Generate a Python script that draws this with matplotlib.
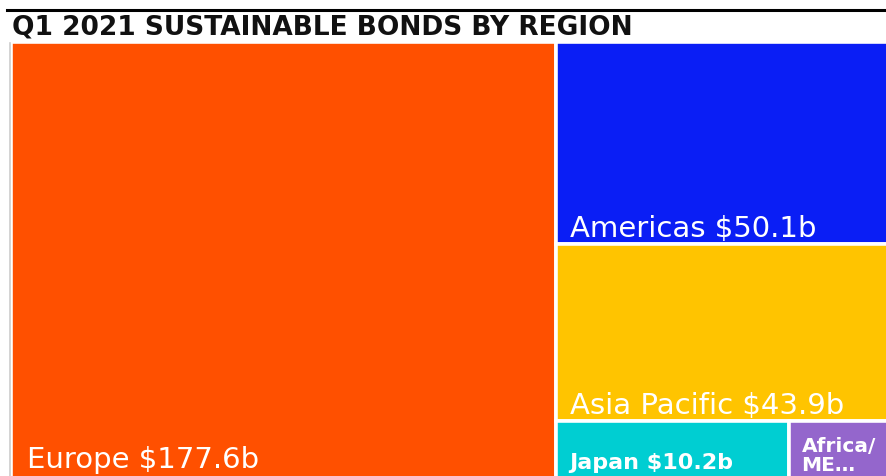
import matplotlib
matplotlib.use("Agg")
import matplotlib.pyplot as plt
from matplotlib.patches import Rectangle
from matplotlib.lines import Line2D

plt.rcParams['font.family'] = ['DejaVu Sans']

# Data
regions = ["Europe", "Americas", "Asia Pacific", "Japan", "Africa/ME"]
values = [177.6, 50.1, 43.9, 10.2, 4.4]
labels = ["Europe $177.6b", "Americas $50.1b", "Asia Pacific $43.9b", "Japan $10.2b", "Africa/\nME\u2026"]
colors = ["#FF5000", "#0A1EF5", "#FFC400", "#00CED2", "#9466CC"]
title = "Q1 2021 SUSTAINABLE BONDS BY REGION"

W, H = 886, 477
dpi = 100
fig = plt.figure(figsize=(W / dpi, H / dpi), dpi=dpi)
fig.patch.set_facecolor("white")

# top rule and title
fig.add_artist(Line2D([7 / W, 1.0], [1 - 11 / H, 1 - 11 / H], color="black", lw=2.2,
                      transform=fig.transFigure))
fig.text(12 / W, 1 - 34 / H, title, fontsize=19, fontweight="bold", va="baseline", ha="left",
         color="#111111")
# faint left border
fig.add_artist(Line2D([9.5 / W, 9.5 / W], [0, 1 - 44 / H], color="#cccccc", lw=1.2,
                      transform=fig.transFigure))

# treemap axes (pixel box 11..889 x 43..481)
x0, x1, y0, y1 = 11, 889, 43, 481
ax = fig.add_axes([x0 / W, 1 - y1 / H, (x1 - x0) / W, (y1 - y0) / H])
ax.set_xlim(0, 1)
ax.set_ylim(0, 1)
ax.axis("off")

total = sum(values)
rest = total - values[0]
rects = []
# Europe column
ew = values[0] / total
rects.append((0, 0, ew, 1))
# right column: Americas, Asia Pacific stacked, bottom row Japan + Africa
rw = 1 - ew
ha_ = values[1] / rest
hb = values[2] / rest
hc = (values[3] + values[4]) / rest
rects.append((ew, 1 - ha_, rw, ha_))
rects.append((ew, 1 - ha_ - hb, rw, hb))
jw = rw * values[3] / (values[3] + values[4])
rects.append((ew, 0, jw, hc))
rects.append((ew + jw, 0, rw - jw, hc))

fsizes = [21, 21, 21, 16, 14.5]
weights = ["normal", "normal", "normal", "bold", "bold"]
offs = [(16, 13), (14, 8), (14, 8), (13, 12), (13, 10)]
for (rx, ry, rwid, rh), c, lab, fs, fw, off in zip(rects, colors, labels, fsizes, weights, offs):
    ax.add_patch(Rectangle((rx, ry), rwid, rh, facecolor=c, edgecolor="white", lw=2.6))
    ax.annotate(lab, xy=(rx, ry), xytext=off, textcoords="offset pixels",
                fontsize=fs, fontweight=fw, color="white", ha="left", va="baseline",
                linespacing=1.0)

fig.savefig("out.png", dpi=dpi)
